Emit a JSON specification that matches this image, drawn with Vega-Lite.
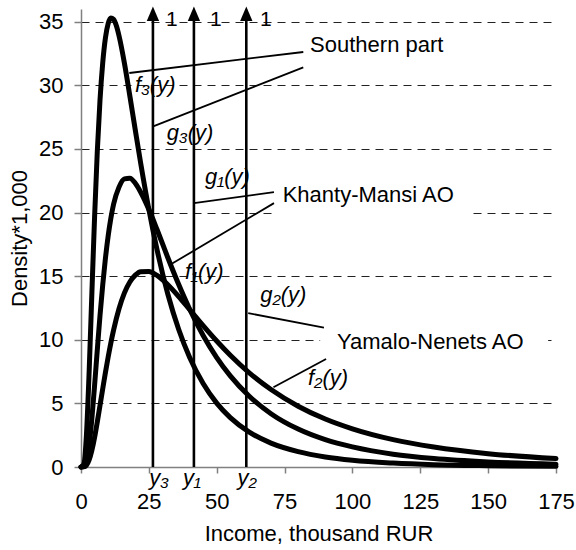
{
  "$schema": "https://vega.github.io/schema/vega-lite/v6.json",
  "width": 475,
  "height": 458,
  "autosize": {"type": "none"},
  "padding": {"left": 81, "top": 9, "right": 20, "bottom": 83},
  "background": "white",
  "config": {"view": {"stroke": null}, "font": "Liberation Sans"},
  "datasets": {
    "curves": [
      {"region": "Southern part", "x": 0, "y": 0}, {"region": "Southern part", "x": 1, "y": 0.2}, {"region": "Southern part", "x": 2, "y": 2.51}, {"region": "Southern part", "x": 3, "y": 7.49}, {"region": "Southern part", "x": 4, "y": 13.63}, {"region": "Southern part", "x": 5, "y": 19.62}, {"region": "Southern part", "x": 6, "y": 24.8}, {"region": "Southern part", "x": 7, "y": 28.84}, {"region": "Southern part", "x": 8, "y": 31.76}, {"region": "Southern part", "x": 9, "y": 33.73}, {"region": "Southern part", "x": 10, "y": 34.85}, {"region": "Southern part", "x": 11, "y": 35.29}, {"region": "Southern part", "x": 12, "y": 35.19}, {"region": "Southern part", "x": 13, "y": 34.7}, {"region": "Southern part", "x": 14, "y": 33.9}, {"region": "Southern part", "x": 16, "y": 31.74}, {"region": "Southern part", "x": 18, "y": 29.16}, {"region": "Southern part", "x": 20, "y": 26.49}, {"region": "Southern part", "x": 22, "y": 23.87}, {"region": "Southern part", "x": 25, "y": 20.25}, {"region": "Southern part", "x": 28, "y": 17.09}, {"region": "Southern part", "x": 32, "y": 13.58}, {"region": "Southern part", "x": 36, "y": 10.81}, {"region": "Southern part", "x": 40, "y": 8.63}, {"region": "Southern part", "x": 45, "y": 6.56}, {"region": "Southern part", "x": 50, "y": 5.02}, {"region": "Southern part", "x": 55, "y": 3.88}, {"region": "Southern part", "x": 62, "y": 2.74}, {"region": "Southern part", "x": 70, "y": 1.88}, {"region": "Southern part", "x": 80, "y": 1.21}, {"region": "Southern part", "x": 90, "y": 0.79}, {"region": "Southern part", "x": 100, "y": 0.53}, {"region": "Southern part", "x": 115, "y": 0.31}, {"region": "Southern part", "x": 130, "y": 0.18}, {"region": "Southern part", "x": 150, "y": 0.1}, {"region": "Southern part", "x": 175, "y": 0.05},
      {"region": "Khanty-Mansi AO", "x": 0, "y": 0}, {"region": "Khanty-Mansi AO", "x": 1, "y": 0.03}, {"region": "Khanty-Mansi AO", "x": 2, "y": 0.45}, {"region": "Khanty-Mansi AO", "x": 3, "y": 1.75}, {"region": "Khanty-Mansi AO", "x": 4, "y": 3.8}, {"region": "Khanty-Mansi AO", "x": 5, "y": 6.4}, {"region": "Khanty-Mansi AO", "x": 6, "y": 9.2}, {"region": "Khanty-Mansi AO", "x": 7, "y": 11.9}, {"region": "Khanty-Mansi AO", "x": 8, "y": 14.3}, {"region": "Khanty-Mansi AO", "x": 9, "y": 16.4}, {"region": "Khanty-Mansi AO", "x": 10, "y": 18.15}, {"region": "Khanty-Mansi AO", "x": 11, "y": 19.55}, {"region": "Khanty-Mansi AO", "x": 12, "y": 20.65}, {"region": "Khanty-Mansi AO", "x": 14, "y": 22.0}, {"region": "Khanty-Mansi AO", "x": 16, "y": 22.65}, {"region": "Khanty-Mansi AO", "x": 18, "y": 22.7}, {"region": "Khanty-Mansi AO", "x": 20, "y": 22.3}, {"region": "Khanty-Mansi AO", "x": 22, "y": 21.6}, {"region": "Khanty-Mansi AO", "x": 25, "y": 20.25}, {"region": "Khanty-Mansi AO", "x": 28, "y": 18.67}, {"region": "Khanty-Mansi AO", "x": 32, "y": 16.45}, {"region": "Khanty-Mansi AO", "x": 36, "y": 14.34}, {"region": "Khanty-Mansi AO", "x": 40, "y": 12.42}, {"region": "Khanty-Mansi AO", "x": 45, "y": 10.34}, {"region": "Khanty-Mansi AO", "x": 50, "y": 8.6}, {"region": "Khanty-Mansi AO", "x": 55, "y": 7.16}, {"region": "Khanty-Mansi AO", "x": 62, "y": 5.56}, {"region": "Khanty-Mansi AO", "x": 70, "y": 4.19}, {"region": "Khanty-Mansi AO", "x": 80, "y": 2.98}, {"region": "Khanty-Mansi AO", "x": 90, "y": 2.15}, {"region": "Khanty-Mansi AO", "x": 100, "y": 1.58}, {"region": "Khanty-Mansi AO", "x": 115, "y": 1.01}, {"region": "Khanty-Mansi AO", "x": 130, "y": 0.67}, {"region": "Khanty-Mansi AO", "x": 150, "y": 0.4}, {"region": "Khanty-Mansi AO", "x": 175, "y": 0.22},
      {"region": "Yamalo-Nenets AO", "x": 0, "y": 0}, {"region": "Yamalo-Nenets AO", "x": 1, "y": 0.01}, {"region": "Yamalo-Nenets AO", "x": 2, "y": 0.13}, {"region": "Yamalo-Nenets AO", "x": 3, "y": 0.55}, {"region": "Yamalo-Nenets AO", "x": 4, "y": 1.3}, {"region": "Yamalo-Nenets AO", "x": 5, "y": 2.32}, {"region": "Yamalo-Nenets AO", "x": 6, "y": 3.54}, {"region": "Yamalo-Nenets AO", "x": 7, "y": 4.84}, {"region": "Yamalo-Nenets AO", "x": 8, "y": 6.14}, {"region": "Yamalo-Nenets AO", "x": 9, "y": 7.43}, {"region": "Yamalo-Nenets AO", "x": 10, "y": 8.64}, {"region": "Yamalo-Nenets AO", "x": 12, "y": 10.76}, {"region": "Yamalo-Nenets AO", "x": 14, "y": 12.44}, {"region": "Yamalo-Nenets AO", "x": 16, "y": 13.69}, {"region": "Yamalo-Nenets AO", "x": 18, "y": 14.54}, {"region": "Yamalo-Nenets AO", "x": 20, "y": 15.08}, {"region": "Yamalo-Nenets AO", "x": 22, "y": 15.35}, {"region": "Yamalo-Nenets AO", "x": 25, "y": 15.37}, {"region": "Yamalo-Nenets AO", "x": 28, "y": 15.06}, {"region": "Yamalo-Nenets AO", "x": 32, "y": 14.33}, {"region": "Yamalo-Nenets AO", "x": 36, "y": 13.4}, {"region": "Yamalo-Nenets AO", "x": 40, "y": 12.38}, {"region": "Yamalo-Nenets AO", "x": 45, "y": 11.11}, {"region": "Yamalo-Nenets AO", "x": 50, "y": 9.9}, {"region": "Yamalo-Nenets AO", "x": 55, "y": 8.78}, {"region": "Yamalo-Nenets AO", "x": 62, "y": 7.4}, {"region": "Yamalo-Nenets AO", "x": 70, "y": 6.09}, {"region": "Yamalo-Nenets AO", "x": 80, "y": 4.78}, {"region": "Yamalo-Nenets AO", "x": 90, "y": 3.77}, {"region": "Yamalo-Nenets AO", "x": 100, "y": 3.0}, {"region": "Yamalo-Nenets AO", "x": 115, "y": 2.15}, {"region": "Yamalo-Nenets AO", "x": 130, "y": 1.57}, {"region": "Yamalo-Nenets AO", "x": 150, "y": 1.05}, {"region": "Yamalo-Nenets AO", "x": 175, "y": 0.66}
    ],
    "masks": [
      {"x": 70.7, "x2": 144.4, "y": 19.6, "y2": 20.4},
      {"x": 88.1, "x2": 172.1, "y": 9.6, "y2": 10.4}
    ],
    "arrows": [
      {"name": "y3", "x": 26.5, "y": 0, "y2": 35.63, "one": "1", "xl": 33.5},
      {"name": "y1", "x": 41.6, "y": 0, "y2": 35.63, "one": "1", "xl": 49.7},
      {"name": "y2", "x": 60.9, "y": 0, "y2": 35.63, "one": "1", "xl": 68.1}
    ],
    "leaders": [
      {"x": 81.9, "y": 32.62, "x2": 17.8, "y2": 30.97},
      {"x": 81.9, "y": 31.41, "x2": 26.6, "y2": 26.77},
      {"x": 71.1, "y": 21.61, "x2": 41.6, "y2": 20.74},
      {"x": 71.1, "y": 20.74, "x2": 32.8, "y2": 15.89},
      {"x": 61.6, "y": 12.09, "x2": 89.5, "y2": 10.96},
      {"x": 90.3, "y": 8.49, "x2": 70.9, "y2": 6.27}
    ],
    "regionLabels": [
      {"label": "Southern part", "x": 84.4, "y": 33.19},
      {"label": "Khanty-Mansi AO", "x": 74.3, "y": 21.39},
      {"label": "Yamalo-Nenets AO", "x": 94.3, "y": 9.83}
    ],
    "funcLabels": [
      {"label": "f₃(y)", "x": 19.9, "y": 30.05},
      {"label": "g₃(y)", "x": 31.6, "y": 26.27},
      {"label": "g₁(y)", "x": 45.7, "y": 22.83},
      {"label": "f₁(y)", "x": 38.3, "y": 15.36},
      {"label": "g₂(y)", "x": 66.0, "y": 13.53},
      {"label": "f₂(y)", "x": 83.6, "y": 6.98}
    ],
    "pointLabels": [
      {"label": "y₃", "x": 25.1, "y": -1.42},
      {"label": "y₁", "x": 37.6, "y": -1.42},
      {"label": "y₂", "x": 57.7, "y": -1.42}
    ]
  },
  "layer": [
    {
      "data": {"name": "curves"},
      "mark": {"type": "line", "stroke": "black", "strokeWidth": 5, "interpolate": "monotone", "strokeJoin": "round", "strokeCap": "round"},
      "encoding": {
        "x": {"field": "x", "type": "quantitative", "title": "Income, thousand RUR", "scale": {"domain": [0, 175], "nice": false},
          "axis": {"values": [0, 25, 50, 75, 100, 125, 150, 175], "grid": false,
            "domainColor": "#808080", "tickColor": "#808080", "tickSize": 6, "domainWidth": 1.5, "tickWidth": 1.5,
            "labelFontSize": 22, "labelPadding": 18, "labelColor": "black", "labelFont": "Liberation Sans", "labelFlush": false, "labelOverlap": false,
            "titleFontSize": 22, "titleFontWeight": "normal", "titleColor": "black", "titleFont": "Liberation Sans", "titlePadding": 11}},
        "y": {"field": "y", "type": "quantitative", "title": "Density*1,000", "scale": {"domain": [0, 36], "nice": false},
          "axis": {"values": [0, 5, 10, 15, 20, 25, 30, 35], "grid": true,
            "gridDash": [8, 6], "gridColor": "#222222", "gridWidth": 1,
            "gridOpacity": {"condition": {"test": "datum.value === 0", "value": 0}, "value": 1},
            "domainColor": "#808080", "tickColor": "#808080", "tickSize": 7, "domainWidth": 1.5, "tickWidth": 1.5,
            "labelFontSize": 22, "labelPadding": 11, "labelColor": "black", "labelFont": "Liberation Sans", "labelOverlap": false,
            "titleFontSize": 22, "titleFontWeight": "normal", "titleColor": "black", "titleFont": "Liberation Sans", "titlePadding": 7}},
        "detail": {"field": "region", "type": "nominal"}
      }
    },
    {
      "data": {"name": "masks"},
      "mark": {"type": "rect", "fill": "white"},
      "encoding": {
        "x": {"field": "x", "type": "quantitative", "title": "Income, thousand RUR"},
        "x2": {"field": "x2"},
        "y": {"field": "y", "type": "quantitative", "title": "Density*1,000"},
        "y2": {"field": "y2"}
      }
    },
    {
      "data": {"name": "arrows"},
      "mark": {"type": "rule", "stroke": "black", "strokeWidth": 2.6},
      "encoding": {
        "x": {"field": "x", "type": "quantitative", "title": "Income, thousand RUR"},
        "y": {"field": "y", "type": "quantitative", "title": "Density*1,000"},
        "y2": {"field": "y2"}
      }
    },
    {
      "data": {"name": "arrows"},
      "mark": {"type": "point", "shape": "M0,-1L-0.85,1L0.85,1Z", "size": 210, "filled": true, "fill": "black", "stroke": null, "opacity": 1},
      "encoding": {
        "x": {"field": "x", "type": "quantitative", "title": "Income, thousand RUR"},
        "y": {"field": "y2", "type": "quantitative", "title": "Density*1,000"}
      }
    },
    {
      "data": {"name": "arrows"},
      "mark": {"type": "text", "font": "Liberation Sans", "fontSize": 21, "align": "center", "baseline": "middle", "fill": "black"},
      "encoding": {
        "x": {"field": "xl", "type": "quantitative", "title": "Income, thousand RUR"},
        "y": {"datum": 35.1, "type": "quantitative", "title": "Density*1,000"},
        "text": {"field": "one"}
      }
    },
    {
      "data": {"name": "leaders"},
      "mark": {"type": "rule", "stroke": "black", "strokeWidth": 1.8},
      "encoding": {
        "x": {"field": "x", "type": "quantitative", "title": "Income, thousand RUR"},
        "y": {"field": "y", "type": "quantitative", "title": "Density*1,000"},
        "x2": {"field": "x2"},
        "y2": {"field": "y2"}
      }
    },
    {
      "data": {"name": "regionLabels"},
      "mark": {"type": "text", "font": "Liberation Sans", "fontSize": 22, "align": "left", "baseline": "middle", "fill": "black"},
      "encoding": {
        "x": {"field": "x", "type": "quantitative", "title": "Income, thousand RUR"},
        "y": {"field": "y", "type": "quantitative", "title": "Density*1,000"},
        "text": {"field": "label"}
      }
    },
    {
      "data": {"name": "funcLabels"},
      "mark": {"type": "text", "font": "Liberation Sans", "fontSize": 22, "fontStyle": "italic", "align": "left", "baseline": "middle", "fill": "black"},
      "encoding": {
        "x": {"field": "x", "type": "quantitative", "title": "Income, thousand RUR"},
        "y": {"field": "y", "type": "quantitative", "title": "Density*1,000"},
        "text": {"field": "label"}
      }
    },
    {
      "data": {"name": "pointLabels"},
      "mark": {"type": "text", "font": "Liberation Sans", "fontSize": 22, "fontStyle": "italic", "align": "left", "baseline": "alphabetic", "fill": "black"},
      "encoding": {
        "x": {"field": "x", "type": "quantitative", "title": "Income, thousand RUR"},
        "y": {"field": "y", "type": "quantitative", "title": "Density*1,000"},
        "text": {"field": "label"}
      }
    }
  ]
}
